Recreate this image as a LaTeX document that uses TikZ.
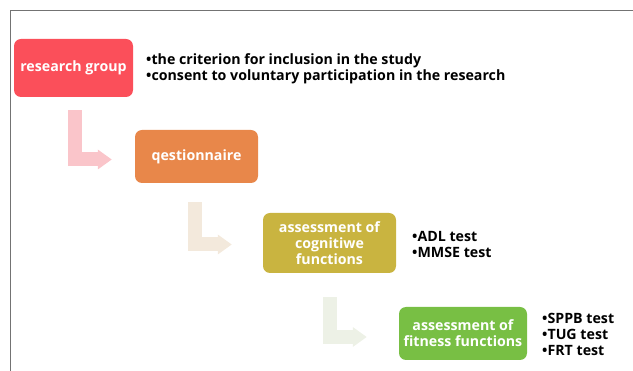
\documentclass[tikz,border=0pt]{standalone}
\usepackage{fontspec}
\setmainfont{Open Sans}
\usepackage{tikz}
\usetikzlibrary{arrows.meta}

\definecolor{groupred}{HTML}{FB4F5A}
\definecolor{questorange}{HTML}{E8874A}
\definecolor{cognyellow}{HTML}{C9B440}
\definecolor{fitgreen}{HTML}{78BF44}
\definecolor{arrowpink}{HTML}{FAC5CA}
\definecolor{arrowsand}{HTML}{F3E9DC}
\definecolor{arrowmint}{HTML}{EDF1E6}

\tikzset{
  stage/.style={rounded corners=7pt, text=white, align=center, inner sep=2pt,
    font=\bfseries\fontsize{14.2}{16}\selectfont},
  items/.style={anchor=west, align=left, inner sep=0pt,
    font=\bfseries\fontsize{14.2}{16}\selectfont},
  turn/.style={line width=14pt, -{Triangle[length=14pt,width=19pt]}},
}

\begin{document}
\begin{tikzpicture}[x=1pt,y=-1pt]
    \useasboundingbox (0,0) rectangle (633,371);
    \draw[black!55, line width=1pt] (633,11) -- (10,11) -- (10,371);

    \node[stage, fill=groupred, minimum width=119pt, minimum height=58pt] (group) at (73.5,68) {research group};
    \node[stage, fill=questorange, minimum width=123pt, minimum height=53pt] (quest) at (196.5,156.5) {qestionnaire};
    \node[stage, fill=cognyellow, minimum width=133pt, minimum height=60pt] (cogn) at (329.5,243) {assessment of\\cognitiwe\\functions};
    \node[stage, fill=fitgreen, minimum width=128pt, minimum height=53pt] (fit) at (463,333.5) {assessment of\\fitness functions};

    \node[items] (groupnotes) at (146,69) {\textbullet the criterion for inclusion in the study\\\textbullet consent to voluntary participation in the research};
    \node[items] (cognnotes) at (412,244) {\textbullet ADL test\\\textbullet MMSE test};
    \node[items] (fitnotes) at (542,334) {\textbullet SPPB test\\\textbullet TUG test\\\textbullet FRT test};

    \draw[turn, arrowpink] ([shift={(1.5,13)}]group.south) |- ([xshift=-23pt,yshift=-3pt]quest.west);
    \draw[turn, arrowsand] ([shift={(-1.5,19)}]quest.south) |- ([xshift=-31pt,yshift=-1.5pt]cogn.west);
    \draw[turn, arrowmint] ([shift={(0.5,24)}]cogn.south) |- ([xshift=-32pt,yshift=-3.5pt]fit.west);
\end{tikzpicture}
\end{document}
